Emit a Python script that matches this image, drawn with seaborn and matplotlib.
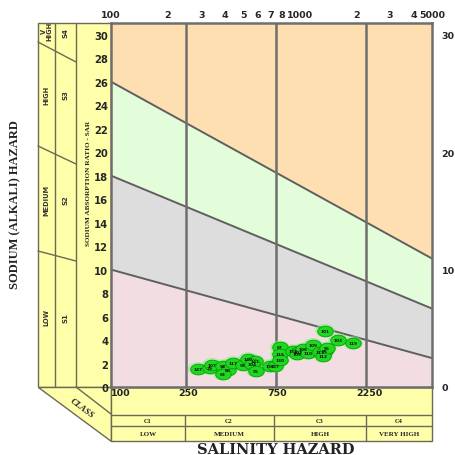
import numpy as np
import pandas as pd
import matplotlib
matplotlib.use("Agg")
import matplotlib.pyplot as plt
import seaborn as sns
from matplotlib.path import Path
from matplotlib.patches import Polygon
from matplotlib.lines import Line2D

# ---------------- data ----------------
ec_limits = [100, 5000]
sar_limits = [0, 31]
# class boundaries (SAR at EC=100 and EC=5000)
bound_left = [10, 18, 26]
bound_right = [2.46, 6.68, 10.94]
salinity_breaks = [250, 750, 2250]
salinity_break_labels = ["100", "250", "750", "2250"]
salinity_classes = ["C1", "C2", "C3", "C4"]
salinity_names = ["LOW", "MEDIUM", "HIGH", "VERY HIGH"]
sodium_classes = ["S4", "S3", "S2", "S1"]
sodium_names = ["V\nHIGH", "HIGH", "MEDIUM", "LOW"]
top_ticks = [100, 200, 300, 400, 500, 600, 700, 800, 1000, 2000, 3000, 4000, 5000]
top_tick_labels = ["100", "2", "3", "4", "5", "6", "7", "8", "1000", "2", "3", "4", "5000"]
left_ticks = list(range(0, 31, 2))
right_ticks = [0, 10, 20, 30]

sample_ec = [288, 334, 342, 391, 416, 391, 442, 499, 531, 578, 560, 585, 694, 740,
             784, 784, 784, 918, 976, 965, 1038, 1102, 1172, 1276, 1357, 1324, 1388,
             1357, 1589, 1906]
sample_sar = [1.54, 1.6, 1.9, 1.8, 1.45, 1.1, 2.05, 1.9, 2.4, 2.2, 2.0, 1.37, 1.8, 1.8,
              3.4, 2.8, 2.3, 3.07, 3.0, 2.8, 3.2, 2.9, 3.6, 3.0, 3.07, 2.65, 3.3,
              4.8, 4.0, 3.75]
sample_id = ["147", "29", "107", "94", "80", "63", "117", "93", "140", "141", "104", "55",
             "136", "137", "67", "115", "130", "132", "102", "105", "106", "110", "109",
             "111", "95", "112", "96", "101", "103", "119"]

df = pd.DataFrame({"EC": sample_ec, "SAR": sample_sar, "id": sample_id})

# ---------------- figure ----------------
sns.set_theme(style="white")
plt.rcParams["font.family"] = ["DejaVu Sans"]
W, H = 455, 456
fig = plt.figure(figsize=(W / 100, H / 100), dpi=100)
fig.patch.set_facecolor("white")


def fx(x):
    return x / W


def fy(y):
    return 1 - y / H


PL, PR, PT, PB = 111, 432, 24, 388
ax = fig.add_axes([fx(PL), fy(PB), (PR - PL) / W, (PB - PT) / H])
ax.set_xscale("log")
ax.set_xlim(*ec_limits)
ax.set_ylim(*sar_limits)

LINEC = "#5f5f5f"
YEL = "#FFFFAA"
EDGE = "#6a6a55"
fills = ["#F2DEE2", "#DDDDDD", "#E3FDDB", "#FEDFB1"]

xs = np.array(ec_limits, dtype=float)
lower = np.array([0.0, 0.0])
for i, c in enumerate(fills):
    if i < len(bound_left):
        upper = np.array([bound_left[i], bound_right[i]])
    else:
        upper = np.array([sar_limits[1], sar_limits[1]])
    ax.fill_between(xs, lower, upper, color=c, lw=0, zorder=0)
    lower = upper
for i in range(len(bound_left)):
    bdf = pd.DataFrame({"EC": xs, "SAR": [bound_left[i], bound_right[i]]})
    sns.lineplot(data=bdf, x="EC", y="SAR", ax=ax, color=LINEC, lw=1.4, zorder=2)
for b in salinity_breaks:
    ax.axvline(b, color="#6e6e6e", lw=1.8, zorder=2)

# ellipse marker
circ = Path.unit_circle()
ell = Path(circ.vertices * np.array([1.45, 1.0]), circ.codes)
sns.scatterplot(data=df, x="EC", y="SAR", ax=ax, marker=ell, s=200,
                color="#7CF27C", edgecolor="none", alpha=0.55, zorder=4, legend=False)
sns.scatterplot(data=df, x="EC", y="SAR", ax=ax, marker=ell, s=125,
                color="#1FD81F", edgecolor="#0B9A0B", linewidth=0.6, zorder=5, legend=False)
for e, s, t in zip(sample_ec, sample_sar, sample_id):
    ax.text(e, s, t, fontsize=3.1, ha="center", va="center", color="#111111",
            fontweight="bold", zorder=6)

ax.set_xlabel("")
ax.set_ylabel("")
for sp in ax.spines.values():
    sp.set_color("#6e6e6e")
    sp.set_linewidth(1.8)
    sp.set_zorder(7)
ax.set_xticks([])
ax.set_xticks([], minor=True)
ax.set_yticks(left_ticks)
ax.set_yticklabels([str(t) for t in left_ticks], fontsize=7.2, fontweight="bold")
ax.tick_params(axis="y", length=0, pad=2)

# top axis
axt = ax.twiny()
axt.set_xscale("log")
axt.set_xlim(*ec_limits)
axt.set_xticks(top_ticks)
axt.set_xticks([], minor=True)
axt.set_xticklabels(top_tick_labels, fontsize=6.8, fontweight="bold")
axt.tick_params(axis="x", length=0, pad=3)
for sp in axt.spines.values():
    sp.set_visible(False)

# right axis
axr = ax.twinx()
axr.set_ylim(*sar_limits)
axr.set_yticks(right_ticks)
axr.set_yticklabels([str(t) for t in right_ticks], fontsize=6.8, fontweight="bold")
axr.tick_params(axis="y", length=0, pad=7)
for sp in axr.spines.values():
    sp.set_visible(False)


# ---------------- decorations ----------------
def poly(pts, fc=YEL, ec=EDGE, lw=1.0, z=-1):
    p = Polygon([(fx(a), fy(b)) for a, b in pts], closed=True, transform=fig.transFigure,
                facecolor=fc, edgecolor=ec, lw=lw, zorder=z)
    fig.add_artist(p)


def line(x0, y0, x1, y1, c=EDGE, lw=1.0, z=-0.5):
    fig.add_artist(Line2D([fx(x0), fx(x1)], [fy(y0), fy(y1)], transform=fig.transFigure,
                          color=c, lw=lw, zorder=z))


# left strips
poly([(38, PT), (PL, PT), (PL, PB), (38, PB)])
line(55, PT, 55, PB)
line(76, PT, 76, PB)
# diagonals of sodium classes
for y0, y1 in [(43, 63), (147, 165), (252, 262)]:
    line(38, y0, 76, y1)
# bottom 3D face
poly([(38, PB), (PL, PB), (PL, 442)])
line(76, PB, PL, 415)
# bottom box
poly([(PL, PB), (PR, PB), (PR, 442), (PL, 442)])
line(PL, 416, PR, 416)
line(PL, 427, PR, 427)
for xb in [185, 274, 366]:
    line(xb, 416, xb, 442)

# texts in strips
for t, yc in zip(sodium_names, [31, 95, 200, 318]):
    fig.text(fx(46.5), fy(yc), t, rotation=90, fontsize=4.8, fontweight="bold",
             ha="center", va="center", linespacing=0.9, color="#333333")
for t, yc in zip(sodium_classes, [33, 95, 200, 318]):
    fig.text(fx(65.5), fy(yc), t, rotation=90, fontsize=5, fontweight="bold",
             ha="center", va="center", color="#333333")
fig.text(fx(88), fy(183), "SODIUM ABSORPTION RATIO - SAR", rotation=90, fontsize=5.2,
         fontweight="bold", ha="center", va="center", color="#222222",
         family="Liberation Serif")
fig.text(fx(82), fy(409), "CLASS", rotation=-37, fontsize=6.5, fontweight="bold",
         style="italic", ha="center", va="center", family="Liberation Serif",
         color="#222222")

# bottom labels
for t, xc in zip(salinity_break_labels, [121, 188, 277, 369]):
    fig.text(fx(xc), fy(394), t, fontsize=6.8, fontweight="bold", ha="center",
             va="center", color="#222222")
for t, xc in zip(salinity_classes, [148, 229, 320, 399]):
    fig.text(fx(xc), fy(421.5), t, fontsize=4.6, fontweight="bold", ha="center",
             va="center", color="#222222", family="Liberation Serif")
for t, xc in zip(salinity_names, [148, 229, 320, 399]):
    fig.text(fx(xc), fy(434.5), t, fontsize=5, fontweight="bold", ha="center",
             va="center", color="#222222", family="Liberation Serif")

fig.text(fx(276), fy(450), "SALINITY HAZARD", fontsize=10.5, fontweight="bold",
         ha="center", va="center", family="DejaVu Serif", color="#222222")
fig.text(fx(15), fy(205), "SODIUM (ALKALI) HAZARD", rotation=90, fontsize=9,
         fontweight="bold", ha="center", va="center", family="Liberation Serif",
         color="#222222")

fig.savefig("out.png", dpi=100)
